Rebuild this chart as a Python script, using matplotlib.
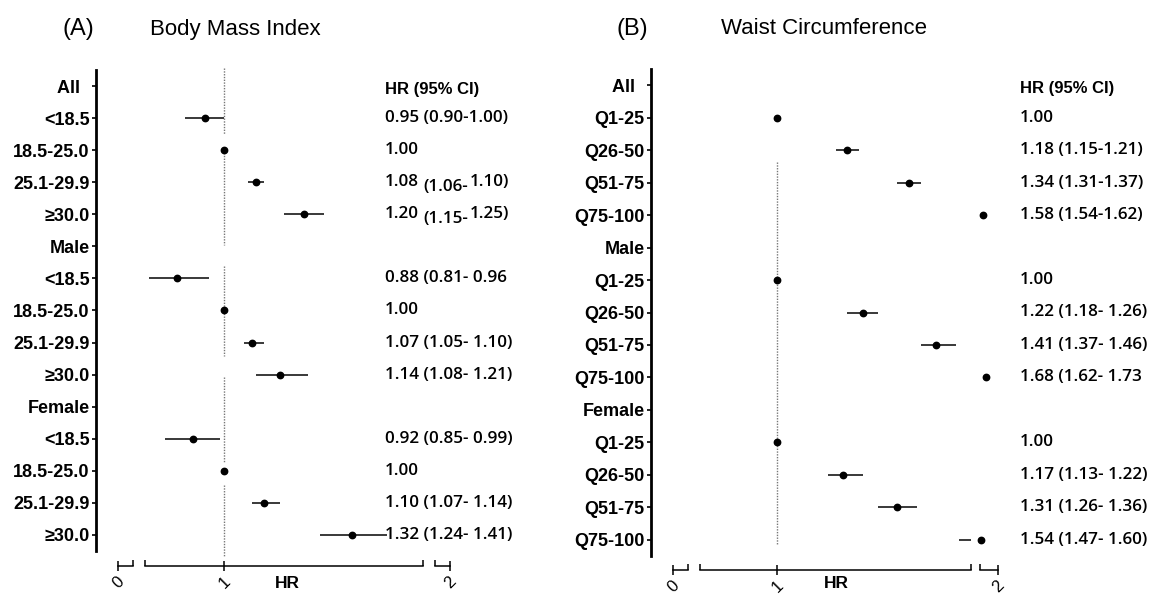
import numpy as np
import matplotlib
matplotlib.use('Agg')
import matplotlib.pyplot as plt
import matplotlib.transforms as mtransforms

W, H = 1151, 594
SANS = ['Liberation Sans', 'DejaVu Sans']
NUMS = ['Open Sans', 'DejaVu Sans']
plt.rcParams['font.family'] = SANS

nan = np.nan

# ---- (A) body mass index ----
bmi_labels = ['All  ', '<18.5', '18.5-25.0', '25.1-29.9', '≥30.0',
              'Male', '<18.5', '18.5-25.0', '25.1-29.9', '≥30.0',
              'Female', '<18.5', '18.5-25.0', '25.1-29.9', '≥30.0']
bmi_hr = [nan, 0.95, 1.00, 1.08, 1.20, nan, 0.88, 1.00, 1.07, 1.14, nan, 0.92, 1.00, 1.10, 1.32]
bmi_lo = [nan, 0.90, nan, 1.06, 1.15, nan, 0.81, nan, 1.05, 1.08, nan, 0.85, nan, 1.07, 1.24]
bmi_hi = [nan, 1.00, nan, 1.10, 1.25, nan, 0.96, nan, 1.10, 1.21, nan, 0.99, nan, 1.14, 1.41]
bmi_text = ['', '0.95 (0.90-1.00)', '1.00', '1.08 (1.06-1.10)', '1.20 (1.15-1.25)',
            '', '0.88 (0.81- 0.96', '1.00', '1.07 (1.05- 1.10)', '1.14 (1.08- 1.21)',
            '', '0.92 (0.85- 0.99)', '1.00', '1.10 (1.07- 1.14)', '1.32 (1.24- 1.41)']
bmi_dropped = [3, 4]   # rows where the CI text sits off its baseline in the original

# ---- (B) waist circumference ----
wc_labels = ['All  ', 'Q1-25', 'Q26-50', 'Q51-75', 'Q75-100',
             'Male', 'Q1-25', 'Q26-50', 'Q51-75', 'Q75-100',
             'Female', 'Q1-25', 'Q26-50', 'Q51-75', 'Q75-100']
wc_hr = [nan, 1.00, 1.18, 1.34, 1.58, nan, 1.00, 1.22, 1.41, 1.68, nan, 1.00, 1.17, 1.31, 1.54]
wc_lo = [nan, nan, 1.15, 1.31, 1.54, nan, nan, 1.18, 1.37, 1.62, nan, nan, 1.13, 1.26, 1.47]
wc_hi = [nan, nan, 1.21, 1.37, 1.62, nan, nan, 1.26, 1.46, 1.73, nan, nan, 1.22, 1.36, 1.60]
wc_text = ['', '1.00', '1.18 (1.15-1.21)', '1.34 (1.31-1.37)', '1.58 (1.54-1.62)',
           '', '1.00', '1.22 (1.18- 1.26)', '1.41 (1.37- 1.46)', '1.68 (1.62- 1.73',
           '', '1.00', '1.17 (1.13- 1.22)', '1.31 (1.26- 1.36)', '1.54 (1.47- 1.60)']
wc_dropped = []

# broken x axis: three pieces, HR ranges
x_pieces = [(0.0, 0.04), (0.8, 1.5), (1.5, 2.0)]
x_ticks = [0, 1, 2]

# dotted reference line at HR = 1, pieces in row units
ref_a = [(-0.56, 1.5), (1.9, 4.96), (5.61, 8.42), (9.07, 11.76), (12.44, 14.69)]
ref_b = [(2.37, 14.14)]

fig = plt.figure(figsize=(W / 100, H / 100), dpi=100)


def px_axes(x0, x1, top, bottom):
    return fig.add_axes([x0 / W, 1 - bottom / H, (x1 - x0) / W, (bottom - top) / H])


def draw_panel(lay, labels, hr, lo, hi, texts, dropped, refs, tag, title):
    n = len(labels)
    axes = []
    for (x0, x1), (a, b), tk in zip(lay['pieces'], x_pieces, x_ticks):
        ax = px_axes(x0, x1, lay['top'], lay['bottom'])
        ax.set_xlim(a, b)
        ax.set_ylim(n - 0.5, -0.5)
        ax.patch.set_alpha(0)
        for s in ['top', 'right', 'left']:
            ax.spines[s].set_visible(False)
        ax.spines['bottom'].set_position(('outward', lay['xoff']))
        ax.spines['bottom'].set_linewidth(1.1)
        ax.set_xticks([tk])
        ax.set_xticklabels([str(tk)], rotation=45, fontsize=12)
        ax.set_xticks([a, b], minor=True)
        ax.tick_params(axis='x', which='major', direction='inout', length=7, width=1.1, pad=2)
        ax.tick_params(axis='x', which='minor', direction='in', length=4, width=1.1)
        ax.tick_params(axis='y', left=False, labelleft=False)
        for t in ax.get_xticklabels():
            t.set_ha('center')
        axes.append(ax)

    ax0 = axes[0]
    ax0.spines['left'].set_visible(True)
    ax0.spines['left'].set_position(('outward', lay['pieces'][0][0] - lay['yaxis']))
    ax0.spines['left'].set_linewidth(2.0)
    ax0.set_yticks(range(n))
    ax0.set_yticklabels(labels, fontsize=13, fontweight='bold')
    ax0.tick_params(axis='y', left=True, labelleft=True, length=3, width=1.2, pad=1.5)

    hr = np.array(hr)
    lo = np.array(lo)
    hi = np.array(hi)
    rows = np.arange(n)
    ci = ~np.isnan(lo)
    for ax in axes:
        ax.hlines(rows[ci], lo[ci], hi[ci], color='#2a2a2a', lw=1.3)
    for ax, (a, b) in zip(axes, x_pieces):
        m = (~np.isnan(hr)) & (hr >= a) & (hr < b)
        ax.plot(hr[m], rows[m], 'o', color='black', ms=4.6, clip_on=False, zorder=5)

    for y0, y1 in refs:
        axes[1].vlines(1.0, y0, y1, colors='#777777', linestyles=(0, (1, 1)), lw=1.0,
                       clip_on=False, zorder=1)

    tr = mtransforms.blended_transform_factory(fig.transFigure, ax0.transData)
    xt = lay['text_x'] / W
    fs = 12.3
    fig.text(xt, 0.1, 'HR (95% CI)', transform=tr, fontsize=12, fontweight='bold',
             ha='left', va='center')
    for i, s in enumerate(texts):
        if not s:
            continue
        if i in dropped:
            est, rest = s.split(' ', 1)
            ci_a, ci_b = rest.split('-', 1)
            t1 = fig.text(xt, i, est, transform=tr, fontsize=fs, family=NUMS,
                          fontweight='semibold', ha='left', va='center')
            t2 = ax0.annotate(ci_a + '-', xy=(1, 0), xycoords=t1, xytext=(3, -3.5),
                              textcoords='offset points', fontsize=fs, family=NUMS,
                              fontweight='semibold', ha='left', va='bottom',
                              annotation_clip=False)
            ax0.annotate(ci_b, xy=(1, 0), xycoords=(t2, t1), xytext=(1, 0),
                         textcoords='offset points', fontsize=fs, family=NUMS,
                         fontweight='semibold', ha='left', va='bottom',
                         annotation_clip=False)
        else:
            fig.text(xt, i, s, transform=tr, fontsize=fs, family=NUMS,
                     fontweight='semibold', ha='left', va='center')

    fig.text(lay['tag_x'] / W, 1 - 29 / H, tag, fontsize=17, ha='left', va='center')
    fig.text(lay['title_x'] / W, 1 - 29 / H, title, fontsize=16, ha='left', va='center')
    fig.text(lay['hr_x'] / W, 1 - 584 / H, 'HR', fontsize=12.5, fontweight='bold',
             ha='center', va='center')


lay_a = dict(pieces=[(118, 133), (145, 423), (435, 450)], top=70, bottom=551, xoff=11,
             yaxis=102, text_x=385, tag_x=63, title_x=150, hr_x=287)
lay_b = dict(pieces=[(673, 688), (700, 971), (980, 998)], top=69, bottom=556, xoff=10,
             yaxis=657, text_x=1020, tag_x=617, title_x=721, hr_x=836)

draw_panel(lay_a, bmi_labels, bmi_hr, bmi_lo, bmi_hi, bmi_text, bmi_dropped, ref_a,
           '(A)', 'Body Mass Index')
draw_panel(lay_b, wc_labels, wc_hr, wc_lo, wc_hi, wc_text, wc_dropped, ref_b,
           '(B)', 'Waist Circumference')

fig.savefig('out.png', dpi=100)
